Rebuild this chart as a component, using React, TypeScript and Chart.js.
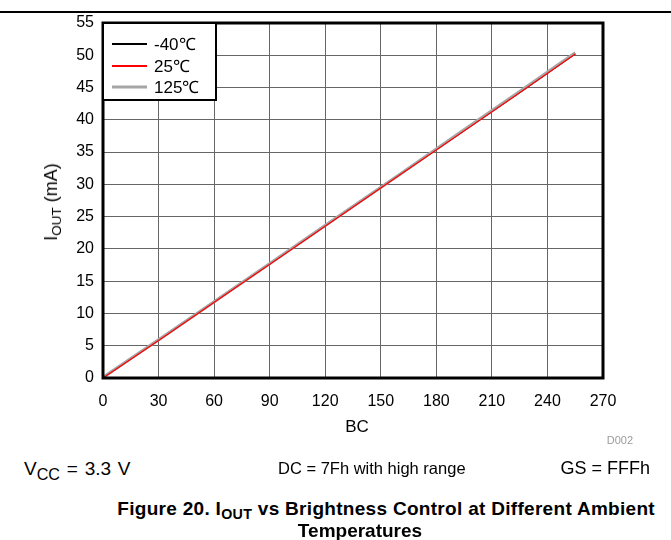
import React, { useEffect, useRef } from "react";
import { Chart, registerables } from "chart.js";

Chart.register(...registerables);

const bcValues = [0, 32, 64, 96, 128, 160, 192, 224, 255];
const ioutMinus40 = [0.1, 6.3, 12.6, 18.9, 25.2, 31.5, 37.8, 44.1, 50.3];
const iout25 = [0.0, 6.2, 12.5, 18.8, 25.1, 31.4, 37.7, 44.0, 50.2];
const iout125 = [0.1, 6.3, 12.6, 18.9, 25.2, 31.5, 37.9, 44.2, 50.4];
const seriesLabels = ["-40℃", "25℃", "125℃"];
const seriesColors = ["#000000", "#ff0000", "#a6a6a6"];
const xTicks = [0, 30, 60, 90, 120, 150, 180, 210, 240, 270];
const yTicks = [0, 5, 10, 15, 20, 25, 30, 35, 40, 45, 50, 55];

const FONT = "'Liberation Sans', Arial, sans-serif";

const framePlugin = {
  id: "frameAndLegend",
  afterDatasetsDraw(chart: any) {
    const { ctx, chartArea } = chart;
    const { left, top, right, bottom } = chartArea;
    ctx.save();
    ctx.strokeStyle = "#000";
    ctx.lineWidth = 3;
    ctx.strokeRect(left, top, right - left, bottom - top);

    // legend box
    const bx = left;
    const by = top;
    const bw = 113;
    const bh = 77;
    ctx.fillStyle = "#fff";
    ctx.fillRect(bx, by, bw, bh);
    ctx.lineWidth = 2;
    ctx.strokeRect(bx, by, bw, bh);
    const rows = [21, 43, 64];
    ctx.font = `17px ${FONT}`;
    ctx.textBaseline = "middle";
    ctx.textAlign = "left";
    seriesLabels.forEach((lab, i) => {
      const y = by + rows[i];
      ctx.beginPath();
      ctx.strokeStyle = seriesColors[i];
      ctx.lineWidth = i === 2 ? 3 : 2;
      ctx.moveTo(bx + 9, y);
      ctx.lineTo(bx + 44, y);
      ctx.stroke();
      ctx.fillStyle = "#000";
      ctx.fillText(lab, bx + 51, y + 1);
    });
    ctx.restore();
  },
};

export default function App() {
  const ref = useRef<HTMLCanvasElement | null>(null);

  useEffect(() => {
    document.body.style.margin = "0";
    const canvas = ref.current;
    if (!canvas) return;
    const mk = (vals: number[]) => bcValues.map((x, i) => ({ x, y: vals[i] }));
    const chart = new Chart(canvas, {
      type: "line",
      data: {
        datasets: [
          {
            label: seriesLabels[0],
            data: mk(ioutMinus40),
            borderColor: seriesColors[0],
            borderWidth: 2,
            pointRadius: 0,
            order: 2,
          },
          {
            label: seriesLabels[1],
            data: mk(iout25),
            borderColor: seriesColors[1],
            borderWidth: 1.2,
            pointRadius: 0,
            order: 0,
          },
          {
            label: seriesLabels[2],
            data: mk(iout125),
            borderColor: seriesColors[2],
            borderWidth: 3,
            pointRadius: 0,
            order: 1,
          },
        ],
      },
      options: {
        animation: false,
        responsive: false,
        layout: { padding: { left: 0, top: 23, right: 68, bottom: 0 } },
        plugins: { legend: { display: false }, tooltip: { enabled: false } },
        scales: {
          x: {
            type: "linear",
            min: 0,
            max: 270,
            afterBuildTicks: (s: any) => {
              s.ticks = xTicks.map((v) => ({ value: v }));
            },
            afterFit: (s: any) => {
              s.height = 42;
            },
            grid: { color: "#666", lineWidth: 1, drawTicks: false },
            border: { display: false },
            ticks: {
              color: "#000",
              padding: 14,
              font: { family: FONT, size: 16 },
              maxRotation: 0,
              autoSkip: false,
            },
          },
          y: {
            type: "linear",
            min: 0,
            max: 55,
            afterBuildTicks: (s: any) => {
              s.ticks = yTicks.map((v) => ({ value: v }));
            },
            afterFit: (s: any) => {
              s.width = 103;
            },
            grid: { color: "#666", lineWidth: 1, drawTicks: false },
            border: { display: false },
            ticks: {
              color: "#000",
              padding: 9,
              font: { family: FONT, size: 16 },
              autoSkip: false,
            },
          },
        },
      },
      plugins: [framePlugin],
    });
    return () => chart.destroy();
  }, []);

  const abs = (extra: React.CSSProperties): React.CSSProperties => ({
    position: "absolute",
    fontFamily: FONT,
    color: "#000",
    whiteSpace: "nowrap",
    lineHeight: "1",
    ...extra,
  });
  const sub: React.CSSProperties = { fontSize: "0.75em", position: "relative", top: "0.3em" };
  const sub2: React.CSSProperties = { fontSize: "0.85em", position: "relative", top: "0.3em" };

  return (
    <div style={{ position: "fixed", left: 0, top: 0, width: 671, height: 540, background: "#fff" }}>
      <div style={{ position: "absolute", left: 0, top: 11, width: 671, height: 1.5, background: "#000" }} />
      <canvas ref={ref} width={671} height={420} style={{ position: "absolute", left: 0, top: 0, width: 671, height: 420 }} />
      <div
        style={abs({
          left: 51,
          top: 202,
          fontSize: 18,
          transform: "translate(-50%, -50%) rotate(-90deg)",
        })}
      >
        I<span style={sub}>OUT</span> (mA)
      </div>
      <div style={abs({ left: 357, top: 426, fontSize: 17, transform: "translate(-50%, -50%)" })}>BC</div>
      <div style={abs({ left: 633, top: 440, fontSize: 11, color: "#9a9a9a", transform: "translate(-100%, -50%)" })}>D002</div>
      <div style={abs({ left: 24, top: 468, fontSize: 19, wordSpacing: 1.5, transform: "translateY(-50%)" })}>
        V<span style={sub2}>CC</span> = 3.3 V
      </div>
      <div style={abs({ left: 278, top: 468, fontSize: 16.5, transform: "translateY(-50%)" })}>DC = 7Fh with high range</div>
      <div style={abs({ left: 650, top: 468, fontSize: 18, transform: "translate(-100%, -50%)" })}>GS = FFFh</div>
      <div
        style={abs({
          left: 655,
          top: 508,
          fontSize: 19,
          fontWeight: "bold",
          letterSpacing: 0.3,
          transform: "translate(-100%, -50%)",
        })}
      >
        Figure 20. I<span style={sub}>OUT</span> vs Brightness Control at Different Ambient
      </div>
      <div style={abs({ left: 360, top: 530, fontSize: 19, fontWeight: "bold", transform: "translate(-50%, -50%)" })}>
        Temperatures
      </div>
    </div>
  );
}
